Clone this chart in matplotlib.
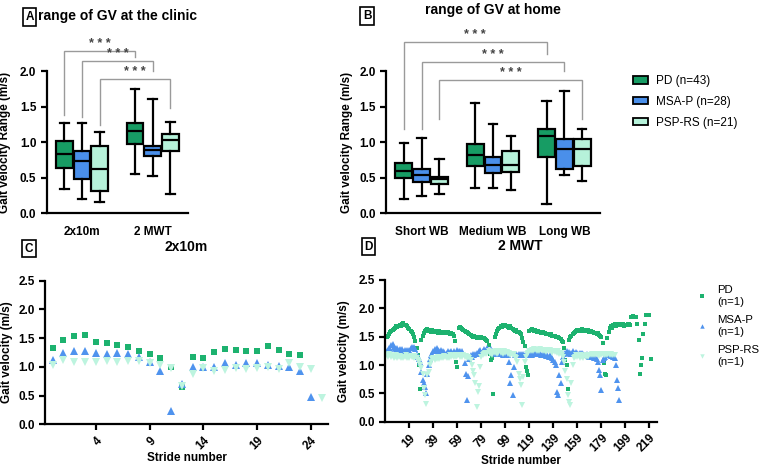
import numpy as np
import matplotlib
matplotlib.use("Agg")
import matplotlib.pyplot as plt
from matplotlib.patches import Patch
from matplotlib.lines import Line2D

plt.rcParams["font.family"] = ["Liberation Sans", "DejaVu Sans"]

# ---- data -------------------------------------------------------------------
group_labels = ["PD (n=43)", "MSA-P (n=28)", "PSP-RS (n=21)"]
single_labels = ["PD\n(n=1)", "MSA-P\n(n=1)", "PSP-RS\n(n=1)"]

# five-number summaries: (whisker low, q1, median, q3, whisker high)
clinic_tests = ["2x10m", "2 MWT"]
clinic_pd = [(0.34, 0.64, 0.83, 1.02, 1.27), (0.55, 0.97, 1.16, 1.27, 1.75)]
clinic_msa = [(0.20, 0.48, 0.73, 0.87, 1.27), (0.52, 0.81, 0.89, 0.95, 1.60)]
clinic_psp = [(0.155, 0.31, 0.62, 0.95, 1.14), (0.27, 0.87, 1.03, 1.11, 1.29)]

home_bouts = ["Short WB", "Medium WB", "Long WB"]
home_pd = [(0.20, 0.49, 0.60, 0.70, 0.99), (0.35, 0.665, 0.82, 0.97, 1.55),
           (0.13, 0.79, 1.09, 1.19, 1.58)]
home_msa = [(0.24, 0.445, 0.54, 0.62, 1.06), (0.35, 0.56, 0.68, 0.79, 1.25),
            (0.54, 0.62, 0.90, 1.05, 1.72)]
home_psp = [(0.27, 0.41, 0.48, 0.515, 0.76), (0.33, 0.585, 0.68, 0.88, 1.08),
            (0.45, 0.66, 0.91, 1.04, 1.18)]

# stride-by-stride gait velocity (m/s), one patient per group
walk10_pd = [1.33, 1.46, 1.54, 1.56, 1.44, 1.41, 1.38, 1.35, 1.28, 1.22, 1.16, 0.99,
             0.65, 1.18, 1.15, 1.26, 1.31, 1.29, 1.28, 1.28, 1.37, 1.30, 1.23, 1.20]
walk10_msa = [1.12, 1.24, 1.27, 1.28, 1.24, 1.22, 1.25, 1.22, 1.17, 1.09, 0.92, 0.23,
              0.71, 1.00, 0.99, 1.00, 1.06, 1.03, 1.06, 1.06, 1.03, 1.02, 1.00, 0.92, 0.48]
walk10_psp = [1.04, 1.12, 1.08, 1.08, 1.08, 1.10, 1.09, 1.10, 1.10, 1.07, 1.03, 0.98,
              0.67, 0.88, 0.98, 0.92, 0.95, 0.98, 0.96, 0.98, 1.00, 0.96, 1.06, 1.00,
              0.96, 0.45]

mwt_pd = [
    1.50, 1.52, 1.55, 1.58, 1.60, 1.62, 1.63, 1.66, 1.68, 1.67,
    1.69, 1.70, 1.68, 1.72, 1.74, 1.71, 1.70, 1.68, 1.66, 1.63,
    1.60, 1.58, 1.55, 1.50, 1.43, 1.30, 1.18, 1.00, 0.58, 1.44,
    1.52, 1.57, 1.60, 1.62, 1.64, 1.60, 1.62, 1.58, 1.61, 1.59,
    1.60, 1.58, 1.59, 1.57, 1.60, 1.58, 1.56, 1.59, 1.57, 1.58,
    1.56, 1.58, 1.57, 1.55, 1.56, 1.54, 1.52, 1.42, 1.05, 0.96,
    1.65, 1.67, 1.66, 1.64, 1.62, 1.60, 1.58, 1.59, 1.56, 1.55,
    1.53, 1.52, 1.50, 1.51, 1.49, 1.48, 1.50, 1.47, 1.48, 1.49,
    1.47, 1.48, 1.46, 1.45, 1.42, 1.36, 1.20, 1.09, 1.12, 0.48,
    1.50, 1.55, 1.60, 1.63, 1.66, 1.68, 1.67, 1.70, 1.69, 1.71,
    1.68, 1.67, 1.66, 1.68, 1.65, 1.63, 1.62, 1.60, 1.61, 1.59,
    1.59, 1.57, 1.55, 1.48, 1.40, 1.34, 0.97, 0.90, 0.82, 1.60,
    1.62, 1.64, 1.62, 1.60, 1.61, 1.59, 1.60, 1.58, 1.59, 1.57,
    1.58, 1.56, 1.57, 1.55, 1.54, 1.55, 1.53, 1.54, 1.52, 1.51,
    1.52, 1.50, 1.49, 1.50, 1.47, 1.46, 1.43, 1.41, 1.30, 1.09,
    1.00, 0.57, 1.45, 1.49, 1.52, 1.55, 1.57, 1.58, 1.60, 1.61,
    1.60, 1.62, 1.61, 1.63, 1.60, 1.62, 1.61, 1.60, 1.62, 1.59,
    1.60, 1.58, 1.59, 1.56, 1.57, 1.55, 1.56, 1.53, 1.52, 1.50,
    1.38, 1.03, 0.85, 0.82, 1.47, 1.58, 1.65, 1.68, 1.66, 1.70,
    1.72, 1.69, 1.71, 1.70, 1.73, 1.71, 1.70, 1.72, 1.69, 1.71,
    1.70, 1.72, 1.73, 1.71, 1.85, 1.86, 1.85, 1.84, 1.84, 1.73,
    1.45, 0.85, 1.00, 1.12, 1.55, 1.73, 1.88, 1.89, 1.88, 1.89, 1.10,
]
mwt_msa = [
    1.25, 1.27, 1.30, 1.28, 1.35, 1.37, 1.32, 1.30, 1.28, 1.30,
    1.27, 1.29, 1.26, 1.28, 1.25, 1.27, 1.24, 1.26, 1.25, 1.27,
    1.30, 1.32, 1.30, 1.31, 1.28, 1.20, 1.15, 1.10, 1.06, 0.88,
    0.73, 0.69, 0.62, 0.50, 0.85, 1.00, 1.10, 1.18, 1.20, 1.25,
    1.28, 1.25, 1.30, 1.27, 1.24, 1.26, 1.22, 1.25, 1.23, 1.20,
    1.22, 1.24, 1.20, 1.23, 1.25, 1.21, 1.24, 1.22, 1.20, 1.26,
    1.24, 1.25, 1.22, 1.24, 1.20, 1.03, 0.85, 0.38, 0.80, 1.10,
    1.18, 1.15, 1.20, 1.17, 1.19, 1.22, 1.20, 1.24, 1.26, 1.22,
    1.25, 1.28, 1.24, 1.26, 1.30, 1.27, 1.25, 1.28, 1.24, 1.22,
    1.23, 1.20, 1.22, 1.21, 1.19, 1.22, 1.20, 1.18, 1.21, 1.19,
    1.20, 1.17, 1.06, 0.68, 0.82, 0.47, 0.97, 1.18, 1.20, 1.17,
    1.19, 1.18, 1.20, 1.17, 1.19, 1.18, 1.20, 1.21, 1.18, 1.20,
    1.22, 1.18, 1.21, 1.23, 1.20, 1.25, 1.22, 1.19, 1.21, 1.18,
    1.20, 1.17, 1.19, 1.16, 1.18, 1.15, 1.17, 1.14, 1.12, 1.08,
    1.06, 1.00, 0.53, 0.47, 0.82, 0.68, 1.05, 1.15, 1.20, 1.22,
    1.24, 1.21, 1.23, 1.20, 1.22, 1.24, 1.21, 1.20, 1.23, 1.21,
    1.20, 1.22, 1.19, 1.21, 1.20, 1.18, 1.17, 1.19, 1.16, 1.15,
    1.17, 1.14, 1.15, 1.12, 1.14, 1.10, 1.06, 0.91, 0.82, 0.56,
    1.08, 1.12, 1.15, 1.18, 1.20, 1.17, 1.19, 1.16, 1.18, 1.15,
    1.12, 1.00, 0.73, 0.59, 0.38,
]
mwt_psp = [
    1.18, 1.15, 1.20, 1.17, 1.14, 1.16, 1.13, 1.15, 1.18, 1.12,
    1.14, 1.16, 1.13, 1.15, 1.12, 1.14, 1.17, 1.13, 1.15, 1.12,
    1.16, 1.14, 1.15, 1.13, 1.16, 1.12, 1.09, 1.05, 1.00, 0.95,
    0.85, 0.59, 0.47, 0.32, 0.82, 0.88, 1.00, 1.06, 1.10, 1.12,
    1.08, 1.12, 1.10, 1.14, 1.11, 1.13, 1.15, 1.12, 1.16, 1.14,
    1.13, 1.15, 1.12, 1.17, 1.14, 1.16, 1.15, 1.17, 1.14, 1.16,
    1.17, 1.15, 1.16, 1.14, 1.17, 1.15, 1.16, 1.13, 1.14, 1.12,
    1.09, 1.00, 0.90, 0.82, 0.68, 0.26, 0.53, 0.63, 0.97, 1.15,
    1.18, 1.20, 1.22, 1.19, 1.21, 1.24, 1.20, 1.22, 1.18, 1.23,
    1.21, 1.24, 1.20, 1.22, 1.25, 1.21, 1.23, 1.20, 1.24, 1.22,
    1.23, 1.20, 1.22, 1.18, 1.20, 1.17, 1.19, 1.15, 1.12, 1.05,
    0.85, 0.75, 0.65, 0.30, 0.79, 1.06, 1.15, 1.20, 1.22, 1.25,
    1.24, 1.27, 1.25, 1.28, 1.26, 1.24, 1.27, 1.25, 1.28, 1.26,
    1.24, 1.27, 1.25, 1.23, 1.26, 1.24, 1.27, 1.25, 1.22, 1.24,
    1.23, 1.25, 1.22, 1.24, 1.20, 1.22, 1.18, 1.15, 1.06, 0.90,
    0.76, 0.47, 0.35, 0.30, 0.68, 1.00, 1.12, 1.15, 1.17, 1.14,
    1.16, 1.13, 1.17, 1.15, 1.12, 1.16, 1.14, 1.17, 1.15, 1.18,
    1.17, 1.20, 1.18, 1.19, 1.17, 1.20, 1.18, 1.16, 1.19, 1.17,
    1.20, 1.18, 1.17, 1.19, 1.18, 1.20, 1.17, 1.19, 1.18, 1.17,
    1.18,
]

# ---- style ------------------------------------------------------------------
BOX_COLORS = ["#179c64", "#4a8fea", "#b6f2da"]
DOT_COLORS = ["#1db26f", "#4f93ee", "#bdf4df"]
LW = 1.6
W, H = 762, 468


def fx(px):
    return px / W


def fy(py):
    return 1 - py / H


def style_axes(ax, ylabel, label_x):
    for side in ("top", "right"):
        ax.spines[side].set_visible(False)
    for side in ("left", "bottom"):
        ax.spines[side].set_linewidth(LW)
    ax.tick_params(axis="both", width=LW, length=4, labelsize=8.5)
    for t in ax.get_yticklabels() + ax.get_xticklabels():
        t.set_fontweight("bold")
    ax.set_ylabel(ylabel, fontsize=8.5, fontweight="bold")
    ax.yaxis.set_label_coords(label_x, 0.5)


def draw_boxes(ax, series_list):
    for k, (series, col) in enumerate(zip(series_list, BOX_COLORS)):
        stats = [dict(whislo=a, q1=b, med=c, q3=d, whishi=e) for a, b, c, d, e in series]
        pos = [i + (k - 1) * 0.25 for i in range(len(series))]
        ax.bxp(stats, positions=pos, widths=0.235, capwidths=0.12,
               patch_artist=True, showfliers=False, manage_ticks=False,
               boxprops=dict(facecolor=col, edgecolor="black", linewidth=LW),
               medianprops=dict(color="black", linewidth=LW),
               whiskerprops=dict(color="black", linewidth=LW),
               capprops=dict(color="black", linewidth=LW))


def bracket(ax, x0, x1, top, left_bot, right_bot):
    ax.plot([x0, x0, x1, x1], [left_bot, top, top, right_bot], color="#9a9a9a",
            lw=1.0, clip_on=False, solid_joinstyle="miter")
    ax.text((x0 + x1) / 2, top + 0.1, "* * *", ha="center", va="center",
            fontsize=9, color="#444444", fontweight="bold", clip_on=False)


def panel_letter(x, y, letter):
    fig.text(fx(x), fy(y), letter, ha="center", va="center", fontsize=8.5,
             fontweight="bold",
             bbox=dict(boxstyle="square,pad=0.22", fc="white", ec="black", lw=1.2))


fig = plt.figure(figsize=(W / 100, H / 100), dpi=100)

# ---- A: clinic ranges -------------------------------------------------------
axA = fig.add_axes([fx(46.7), fy(213.3), fx(141.3), (213.3 - 71) / H])
draw_boxes(axA, [clinic_pd, clinic_msa, clinic_psp])
axA.set_xlim(-0.5, 1.5)
axA.set_ylim(0, 2.0)
axA.set_yticks(np.arange(0, 2.01, 0.5))
axA.yaxis.set_major_formatter(matplotlib.ticker.FormatStrFormatter("%.1f"))
axA.set_xticks(range(len(clinic_tests)))
axA.set_xticklabels(clinic_tests)
style_axes(axA, "Gait velocity Range (m/s)", -0.253)
axA.tick_params(axis="x", length=0, pad=9)
bracket(axA, -0.25, 0.75, 2.28, 1.38, 2.19)
bracket(axA, 0.0, 1.0, 2.14, 1.36, 2.0)
bracket(axA, 0.25, 1.25, 1.89, 1.24, 1.48)

# ---- B: home ranges ---------------------------------------------------------
axB = fig.add_axes([fx(386), fy(213.3), fx(214), (213.3 - 71) / H])
draw_boxes(axB, [home_pd, home_msa, home_psp])
axB.set_xlim(-0.5, 2.5)
axB.set_ylim(0, 2.0)
axB.set_yticks(np.arange(0, 2.01, 0.5))
axB.yaxis.set_major_formatter(matplotlib.ticker.FormatStrFormatter("%.1f"))
axB.set_xticks(range(len(home_bouts)))
axB.set_xticklabels(home_bouts)
style_axes(axB, "Gait velocity Range (m/s)", -0.154)
axB.tick_params(axis="x", length=0, pad=9)
bracket(axB, -0.25, 1.75, 2.41, 1.18, 2.24)
bracket(axB, 0.0, 2.0, 2.12, 1.19, 2.0)
bracket(axB, 0.25, 2.25, 1.87, 1.33, 1.33)

handles = [Patch(facecolor=c, edgecolor="black", linewidth=1.3) for c in BOX_COLORS]
fig.legend(handles, group_labels, loc="center left",
           bbox_to_anchor=(fx(622), fy(102)), frameon=False, fontsize=8.5,
           handlelength=1.3, handleheight=0.55, handletextpad=0.7, labelspacing=0.75)

# ---- C / D: stride-by-stride velocity --------------------------------------
def draw_strides(ax, series_list, msize):
    markers = ["s", "^", "v"]
    for vals, m, col in zip(series_list, markers, DOT_COLORS):
        ax.plot(np.arange(len(vals)), vals, linestyle="none", marker=m,
                markersize=msize if m == "s" else msize * 1.15,
                color=col, markeredgewidth=0)


axC = fig.add_axes([fx(45), fy(424.3), fx(283), (424.3 - 280.7) / H])
draw_strides(axC, [walk10_pd, walk10_msa, walk10_psp], 4.6)
axC.set_xlim(-0.72, 25.6)
axC.set_ylim(0, 2.5)
axC.set_yticks(np.arange(0, 2.51, 0.5))
axC.yaxis.set_major_formatter(matplotlib.ticker.FormatStrFormatter("%.1f"))
axC.set_xticks(range(4, 25, 5))
style_axes(axC, "Gait velocity (m/s)", -0.113)
plt.setp(axC.get_xticklabels(), rotation=45, ha="right", rotation_mode="anchor")
axC.set_xlabel("Stride number", fontsize=8.5, fontweight="bold", labelpad=0)

axD = fig.add_axes([fx(385), fy(421.7), fx(272), (421.7 - 280) / H])
draw_strides(axD, [mwt_pd, mwt_msa, mwt_psp], 3.2)
axD.set_xlim(-1.25, 225.4)
axD.set_ylim(0, 2.5)
axD.set_yticks(np.arange(0, 2.51, 0.5))
axD.yaxis.set_major_formatter(matplotlib.ticker.FormatStrFormatter("%.1f"))
axD.set_xticks(range(19, 220, 20))
style_axes(axD, "Gait velocity (m/s)", -0.129)
plt.setp(axD.get_xticklabels(), rotation=45, ha="right", rotation_mode="anchor")
axD.set_xlabel("Stride number", fontsize=8.5, fontweight="bold", labelpad=0)

dot_handles = [Line2D([], [], linestyle="none", marker=m, color=c, markersize=3.2,
                      markeredgewidth=0)
               for m, c in zip(["s", "^", "v"], DOT_COLORS)]
fig.legend(dot_handles, single_labels, loc="center left",
           bbox_to_anchor=(fx(686), fy(326)), frameon=False, fontsize=8.2,
           handlelength=1.0, handletextpad=0.8, labelspacing=0.75)

# ---- titles and panel letters ----------------------------------------------
panel_letter(29.5, 17, "A")
fig.text(fx(38), fy(16), "range of GV at the clinic", ha="left", va="center",
         fontsize=10, fontweight="bold")
panel_letter(367, 16, "B")
fig.text(fx(493), fy(10), "range of GV at home", ha="center", va="center",
         fontsize=10, fontweight="bold")
panel_letter(29, 248.5, "C")
fig.text(fx(186), fy(247), "2x10m", ha="center", va="center",
         fontsize=10, fontweight="bold")
panel_letter(368.5, 246.5, "D")
fig.text(fx(520), fy(246), "2 MWT", ha="center", va="center",
         fontsize=10, fontweight="bold")

fig.savefig("out.png", dpi=100)
